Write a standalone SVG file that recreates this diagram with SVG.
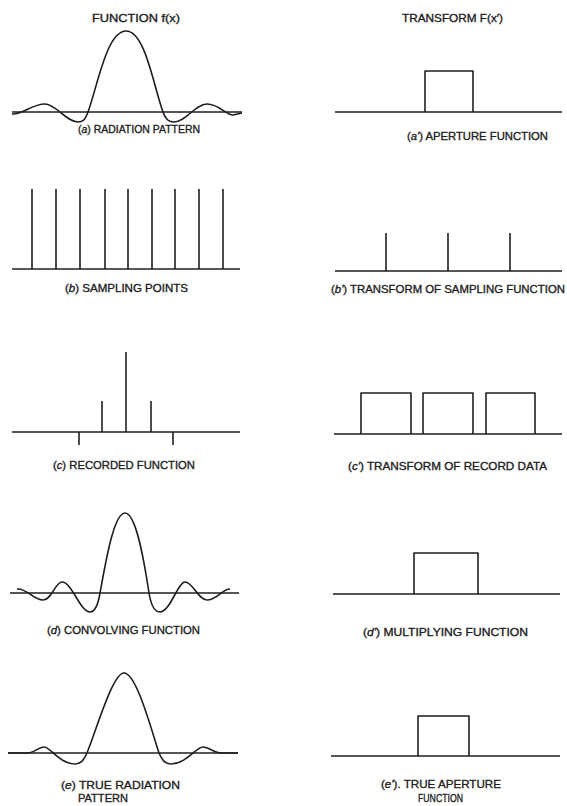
<svg xmlns="http://www.w3.org/2000/svg" width="567" height="806" viewBox="0 0 567 806">
<style>
  .ln{fill:none;stroke:#1e1e1e;stroke-width:1.6;stroke-linejoin:round;stroke-linecap:butt}
  .t{font-family:"Liberation Sans","DejaVu Sans",sans-serif;font-size:11px;fill:#1e1e1e;stroke:#1e1e1e;stroke-width:0.35}
  .i{font-style:italic}
</style>
<rect width="567" height="806" fill="#ffffff"/>

<g id="headers">
  <text class="t" x="92" y="21.5" textLength="88" lengthAdjust="spacingAndGlyphs">FUNCTION  f(x)</text>
  <text class="t" x="402" y="22" textLength="101" lengthAdjust="spacingAndGlyphs">TRANSFORM F(x′)</text>
</g>

<g id="panel-a">
  <line class="ln" x1="12" y1="112" x2="242" y2="112"/>
  <path class="ln" d="M12,114 C22,115 32,104 45,104 C56,104 66,122 78,122 C83,122 85,120 88,112 C98,84 107,31 126,31 C145,31 153,84 163,112 C166,120 169,122 174,122 C186,122 195,104 207,104 C219,104 226,115 233,115 L242,113"/>
  <text class="t" x="78" y="133" textLength="122" lengthAdjust="spacingAndGlyphs">(<tspan class="i">a</tspan>) RADIATION PATTERN</text>
</g>

<g id="panel-a-prime">
  <line class="ln" x1="335" y1="112" x2="562" y2="112"/>
  <path class="ln" d="M425,112 V71 H473 V112"/>
  <text class="t" x="407" y="139.5" textLength="141" lengthAdjust="spacingAndGlyphs">(<tspan class="i">a'</tspan>) APERTURE FUNCTION</text>
</g>

<g id="panel-b">
  <line class="ln" x1="12" y1="269" x2="240" y2="269"/>
  <path class="ln" d="M32,269V189 M56,269V189 M80,269V189 M105,269V189 M128,269V189 M152,269V189 M175,269V189 M199,269V189 M223,269V189"/>
  <text class="t" x="65" y="291.5" textLength="123" lengthAdjust="spacingAndGlyphs">(<tspan class="i">b</tspan>) SAMPLING POINTS</text>
</g>

<g id="panel-b-prime">
  <line class="ln" x1="335" y1="271" x2="562" y2="271"/>
  <path class="ln" d="M386,271V233 M448,271V233 M510,271V233"/>
  <text class="t" x="331" y="292.5" textLength="234" lengthAdjust="spacingAndGlyphs">(<tspan class="i">b'</tspan>) TRANSFORM OF SAMPLING FUNCTION</text>
</g>

<g id="panel-c">
  <line class="ln" x1="12" y1="432" x2="240" y2="432"/>
  <path class="ln" d="M126,432V352 M102,432V401 M151,432V401 M79,432V445 M173,432V445"/>
  <text class="t" x="53" y="468.5" textLength="142" lengthAdjust="spacingAndGlyphs">(<tspan class="i">c</tspan>) RECORDED FUNCTION</text>
</g>

<g id="panel-c-prime">
  <line class="ln" x1="334" y1="434" x2="562" y2="434"/>
  <path class="ln" d="M361,434V393H411V434 M423,434V393H473V434 M486,434V393H535V434"/>
  <text class="t" x="348" y="469.5" textLength="199" lengthAdjust="spacingAndGlyphs">(<tspan class="i">c'</tspan>) TRANSFORM OF RECORD DATA</text>
</g>

<g id="panel-d">
  <line class="ln" x1="10" y1="593" x2="239" y2="593"/>
  <path class="ln" d="M17,589 C27,588 33,600 43,600 C52,600 55,582 62,582 C72,582 80,612 90,612 C95,612 98,605 100,593 C106,560 114,513 125,513 C136,513 144,560 149,593 C151,605 155,612 160,612 C170,612 178,582 185,582 C193,582 198,600 207,600 C217,600 222,589 230,589"/>
  <text class="t" x="47" y="633.5" textLength="153" lengthAdjust="spacingAndGlyphs">(<tspan class="i">d</tspan>) CONVOLVING FUNCTION</text>
</g>

<g id="panel-d-prime">
  <line class="ln" x1="333" y1="594" x2="560" y2="594"/>
  <path class="ln" d="M414,594V553H478V594"/>
  <text class="t" x="363" y="635.5" textLength="165" lengthAdjust="spacingAndGlyphs">(<tspan class="i">d'</tspan>) MULTIPLYING FUNCTION</text>
</g>

<g id="panel-e">
  <line class="ln" x1="8" y1="753" x2="238" y2="753"/>
  <path class="ln" d="M8,753 L27,753 C35,753 38,747 44,747 C50,747 60,764 75,764 C81,764 84,760 87,753 C98,725 113,673 124,673 C136,673 150,725 159,753 C162,760 165,764 171,764 C186,764 196,747 203,747 C209,747 214,753 222,753 L238,753"/>
  <text class="t" x="61" y="788.5" textLength="119" lengthAdjust="spacingAndGlyphs">(<tspan class="i">e</tspan>) TRUE RADIATION</text>
  <text class="t" x="78" y="802" textLength="50" lengthAdjust="spacingAndGlyphs">PATTERN</text>
</g>

<g id="panel-e-prime">
  <line class="ln" x1="331" y1="756" x2="560" y2="756"/>
  <path class="ln" d="M418,756V716H469V756"/>
  <text class="t" x="381" y="788" textLength="120" lengthAdjust="spacingAndGlyphs">(<tspan class="i">e'</tspan>). TRUE APERTURE</text>
  <text class="t" x="418" y="802" textLength="45" lengthAdjust="spacingAndGlyphs">FUNCTION</text>
</g>
</svg>
